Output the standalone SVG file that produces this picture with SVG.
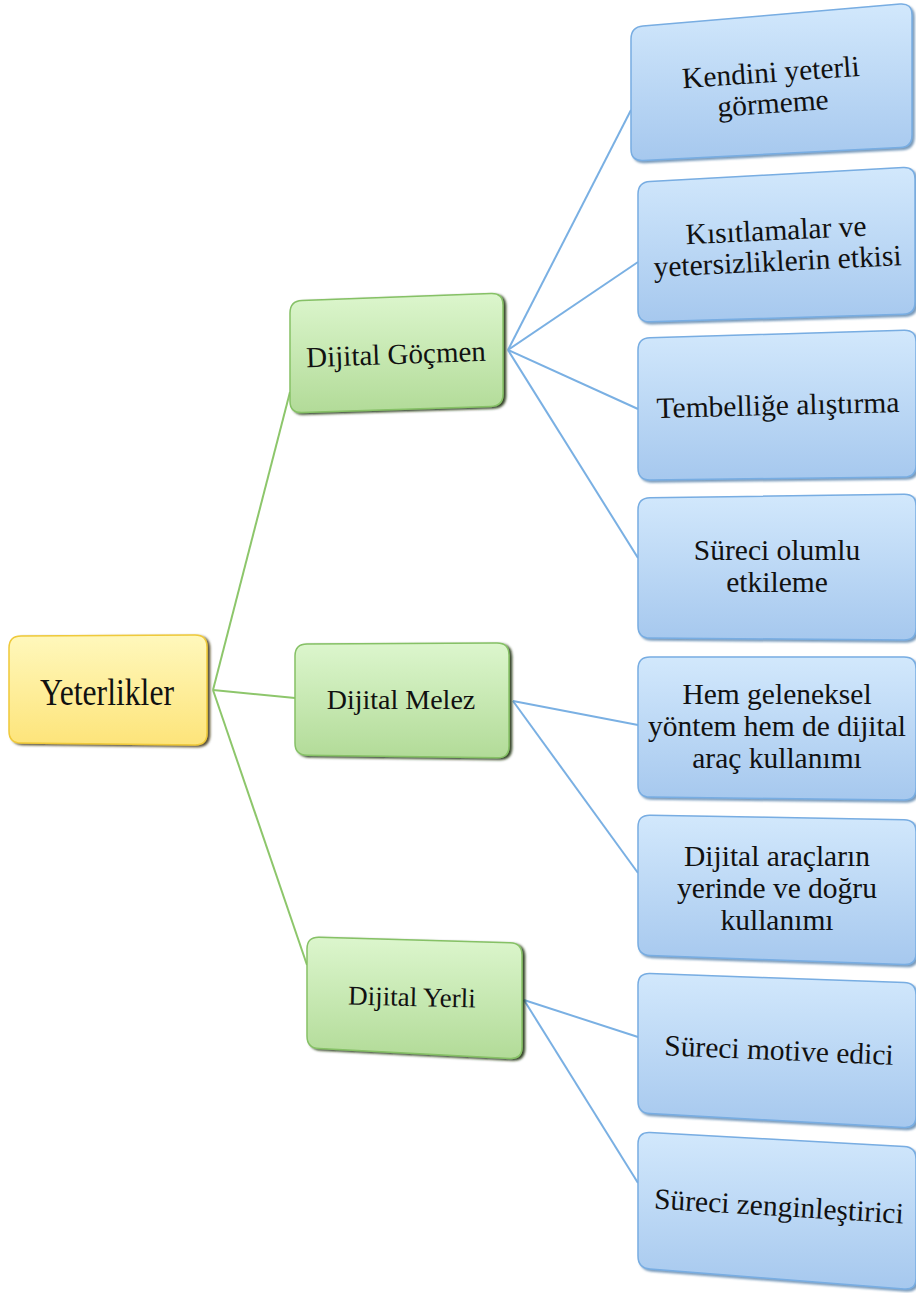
<svg xmlns="http://www.w3.org/2000/svg" width="916" height="1293" viewBox="0 0 916 1293">
<defs>
<linearGradient id="gBlue" x1="0" y1="0" x2="0" y2="1">
<stop offset="0" stop-color="#d2e8fc"/><stop offset="1" stop-color="#a6c8ee"/>
</linearGradient>
<linearGradient id="gGreen" x1="0" y1="0" x2="0" y2="1">
<stop offset="0" stop-color="#dcf6cd"/><stop offset="1" stop-color="#b2db98"/>
</linearGradient>
<linearGradient id="gYellow" x1="0" y1="0" x2="0" y2="1">
<stop offset="0" stop-color="#fff8bc"/><stop offset="1" stop-color="#fde47a"/>
</linearGradient>
<filter id="shBlue" x="-10%" y="-10%" width="120%" height="120%">
<feDropShadow dx="2" dy="2" stdDeviation="1.2" flood-color="#3f6f9f" flood-opacity="0.7"/>
</filter>
<filter id="shGreen" x="-10%" y="-10%" width="120%" height="120%">
<feDropShadow dx="2.5" dy="1.5" stdDeviation="1" flood-color="#1b3010" flood-opacity="0.9"/>
</filter>
<filter id="shYellow" x="-10%" y="-10%" width="120%" height="120%">
<feDropShadow dx="2.5" dy="1.5" stdDeviation="1" flood-color="#3a2e08" flood-opacity="0.85"/>
</filter>
</defs>
<style>
.blue{fill:url(#gBlue);stroke:#78ade2;stroke-width:1.5;filter:url(#shBlue)}
.green{fill:url(#gGreen);stroke:#86c166;stroke-width:1.5;filter:url(#shGreen)}
.yellow{fill:url(#gYellow);stroke:#efc93a;stroke-width:1.5;filter:url(#shYellow)}
text{font-family:"Liberation Serif","Times New Roman",serif;fill:#111;text-anchor:middle}
.t{font-size:29.5px}
.g{font-size:29px}
.lg{stroke:#8dc66b;stroke-width:2;fill:none}
.lb{stroke:#7ab0e3;stroke-width:2;fill:none}
</style>
<rect width="916" height="1293" fill="#ffffff"/>
<g id="connectors">
<line class="lg" x1="213" y1="690" x2="290" y2="392"/>
<line class="lg" x1="213" y1="690" x2="295" y2="698"/>
<line class="lg" x1="213" y1="690" x2="307" y2="965"/>
<line class="lb" x1="508" y1="350" x2="631" y2="110"/>
<line class="lb" x1="508" y1="350" x2="638" y2="262"/>
<line class="lb" x1="508" y1="350" x2="638" y2="409"/>
<line class="lb" x1="508" y1="350" x2="638" y2="558"/>
<line class="lb" x1="513" y1="701" x2="638" y2="725"/>
<line class="lb" x1="513" y1="701" x2="638" y2="873"/>
<line class="lb" x1="524" y1="1000" x2="638" y2="1037"/>
<line class="lb" x1="524" y1="1000" x2="638" y2="1183"/>
</g>
<g id="yeterlikler">
<path class="yellow" d="M21,636 L195,635 Q207,635 207,647 L207,733 Q207,745 195,744.9 L21,743.1 Q9,743 9,731 L9,648 Q9,636 21,636 Z"/>
<text x="107" y="705" font-size="38" textLength="134" lengthAdjust="spacingAndGlyphs">Yeterlikler</text>
</g>
<g id="dijital-gocmen">
<path class="green" d="M302,300.5 L491,293.5 Q503,293 503,305 L503,394 Q503,406 491,406.4 L302,412.6 Q290,413 290,401 L290,313 Q290,301 302,300.5 Z"/>
<text class="g" x="396" y="364" transform="rotate(-2 396 355)">Dijital Göçmen</text>
</g>
<g id="dijital-melez">
<path class="green" d="M307,644 L497,643 Q509,643 509,655 L509,746 Q509,758 497,757.8 L307,755.2 Q295,755 295,743 L295,656 Q295,644 307,644 Z"/>
<text x="401" y="709" font-size="28">Dijital Melez</text>
</g>
<g id="dijital-yerli">
<path class="green" d="M319,937.3 L510,942.7 Q522,943 522,955 L522,1047 Q522,1059 510,1058.4 L319,1048.6 Q307,1048 307,1036 L307,949 Q307,937 319,937.3 Z"/>
<text x="412" y="1006" font-size="27" transform="rotate(1.3 412 998)">Dijital Yerli</text>
</g>
<g id="kendini-yeterli-gormeme">
<path class="blue" d="M643,26 L900,4 Q912,3 912,15 L912,135 Q912,147 900,147.6 L643,160.4 Q631,161 631,149 L631,39 Q631,27 643,26 Z"/>
<text class="t" transform="rotate(-4 772 90)"><tspan x="772" y="82">Kendini yeterli</tspan><tspan x="772" y="113">görmeme</tspan></text>
</g>
<g id="kisitlamalar">
<path class="blue" d="M650,181.4 L903,167.6 Q915,167 915,179 L915,302 Q915,314 903,314.3 L650,321.7 Q638,322 638,310 L638,194 Q638,182 650,181.4 Z"/>
<text class="t" transform="rotate(-2.7 777 250)"><tspan x="777" y="240">Kısıtlamalar ve</tspan><tspan x="777" y="271">yetersizliklerin etkisi</tspan></text>
</g>
<g id="tembellige-alistirma">
<path class="blue" d="M650,337.7 L904,330.3 Q916,330 916,342 L916,465 Q916,477 904,477.1 L650,479.9 Q638,480 638,468 L638,350 Q638,338 650,337.7 Z"/>
<text class="t" x="778" y="415" transform="rotate(-1.4 778 405)">Tembelliğe alıştırma</text>
</g>
<g id="sureci-olumlu-etkileme">
<path class="blue" d="M650,497.8 L904,494.2 Q916,494 916,506 L916,628 Q916,640 904,639.9 L650,638.1 Q638,638 638,626 L638,510 Q638,498 650,497.8 Z"/>
<text class="t"><tspan x="777" y="560">Süreci olumlu</tspan><tspan x="777" y="592">etkileme</tspan></text>
</g>
<g id="hem-geleneksel">
<path class="blue" d="M650,657 L904,657 Q916,657 916,669 L916,788 Q916,800 904,799.9 L650,797.1 Q638,797 638,785 L638,669 Q638,657 650,657 Z"/>
<text class="t"><tspan x="777" y="704">Hem geleneksel</tspan><tspan x="777" y="736">yöntem hem de dijital</tspan><tspan x="777" y="768">araç kullanımı</tspan></text>
</g>
<g id="dijital-araclarin">
<path class="blue" d="M650,815.2 L904,819.8 Q916,820 916,832 L916,953 Q916,965 904,964.6 L650,955.4 Q638,955 638,943 L638,827 Q638,815 650,815.2 Z"/>
<text class="t"><tspan x="777" y="866">Dijital araçların</tspan><tspan x="777" y="898">yerinde ve doğru</tspan><tspan x="777" y="930">kullanımı</tspan></text>
</g>
<g id="sureci-motive-edici">
<path class="blue" d="M650,973.4 L904,982.6 Q916,983 916,995 L916,1116 Q916,1128 904,1127.4 L650,1113.6 Q638,1113 638,1101 L638,985 Q638,973 650,973.4 Z"/>
<text class="t" x="779" y="1060" transform="rotate(2.4 779 1050)">Süreci motive edici</text>
</g>
<g id="sureci-zenginlestirici">
<path class="blue" d="M650,1132.6 L904,1146.4 Q916,1147 916,1159 L916,1278 Q916,1290 904,1289 L650,1269 Q638,1268 638,1256 L638,1144 Q638,1132 650,1132.6 Z"/>
<text class="t" x="779" y="1216" transform="rotate(3.4 779 1206)">Süreci zenginleştirici</text>
</g>
</svg>
